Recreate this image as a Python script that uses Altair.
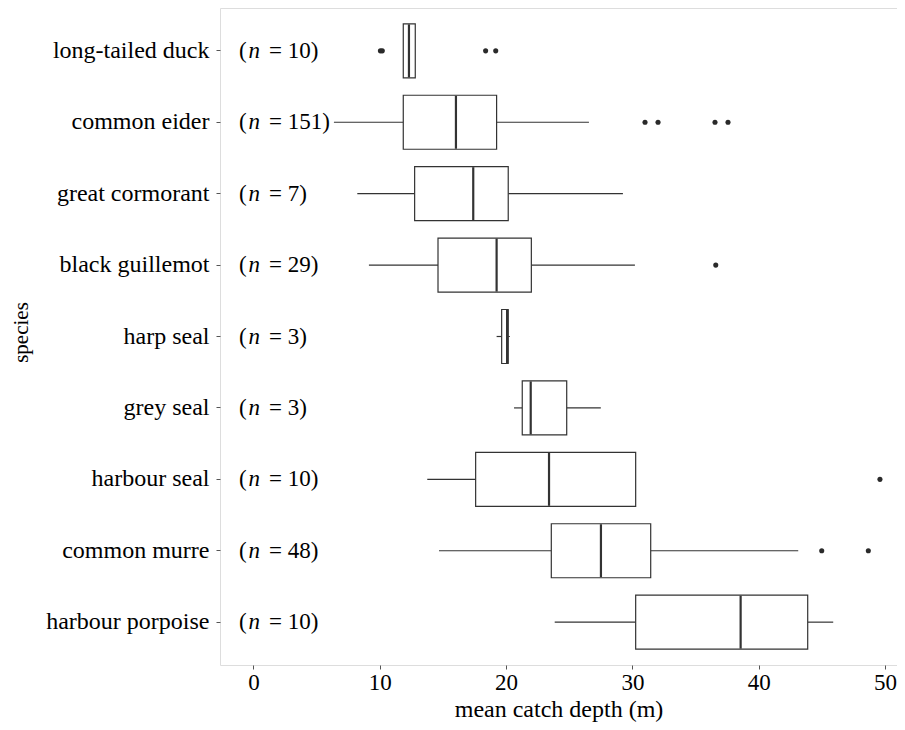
import altair as alt
import pandas as pd

species = ["long-tailed duck", "common eider", "great cormorant", "black guillemot",
           "harp seal", "grey seal", "harbour seal", "common murre", "harbour porpoise"]
n_counts = [10, 151, 7, 29, 3, 3, 10, 48, 10]
whisker_lo = [11.86, 6.37, 8.22, 9.14, 19.25, 20.63, 13.76, 14.69, 23.85]
q1 = [11.86, 11.86, 12.76, 14.61, 19.65, 21.28, 17.59, 23.58, 30.26]
median = [12.31, 16.03, 17.40, 19.25, 20.08, 21.95, 23.40, 27.51, 38.57]
q3 = [12.81, 19.25, 20.17, 22.00, 20.17, 24.80, 30.26, 31.45, 43.88]
whisker_hi = [12.81, 26.56, 29.25, 30.20, 20.30, 27.50, 30.26, 43.13, 45.90]

outlier_species = ["long-tailed duck", "long-tailed duck", "long-tailed duck", "long-tailed duck",
                   "common eider", "common eider", "common eider", "common eider",
                   "black guillemot", "harbour seal", "common murre", "common murre"]
outlier_values = [10.05, 10.20, 18.38, 19.18,
                  31.00, 32.03, 36.54, 37.57,
                  36.60, 49.60, 44.99, 48.68]

label_x = [-1.15] * len(species)

df = pd.DataFrame({
    "species": species, "n": n_counts, "lo": whisker_lo, "q1": q1,
    "median": median, "q3": q3, "hi": whisker_hi, "lx": label_x,
})
df["open"] = "("
df["nn"] = "n"
df["rest"] = ["= " + str(v) + ")" for v in n_counts]
out = pd.DataFrame({"species": outlier_species, "value": outlier_values})

FONT = "Liberation Serif"
LINE = "#333333"
FRAME = "#555555"
W, H = 677, 657

xscale = alt.Scale(domain=[-2.65, 50.95], nice=False, zero=False)
yscale = alt.Scale(domain=species, paddingInner=0, paddingOuter=0.1)

y_enc = alt.Y("species:N", scale=yscale, sort=species, axis=alt.Axis(
    title="species", titleFontSize=21, titleFont=FONT, titleFontWeight="normal",
    titleColor="black", titleX=-199, titleY=324, titleAngle=-90, titleBaseline="middle",
    titleAlign="center",
    labelFontSize=24, labelFont=FONT, labelColor="black", labelPadding=7,
    tickSize=4, tickColor=FRAME, domain=False, grid=False, labelLimit=400))

x_axis = alt.Axis(
    title="mean catch depth (m)", titleFontSize=24, titleFont=FONT, titleFontWeight="normal",
    titleColor="black", titleY=51, titleBaseline="alphabetic",
    labelFontSize=23, labelFont=FONT, labelColor="black", labelBaseline="alphabetic",
    labelPadding=20, values=[0, 10, 20, 30, 40, 50], tickSize=4, tickColor=FRAME,
    domain=False, grid=False)

base = alt.Chart(df)
Y = alt.Y("species:N", scale=yscale, sort=species)

whisk_l = base.mark_rule(color=LINE, strokeWidth=1.2).encode(
    x=alt.X("lo:Q", scale=xscale, axis=x_axis), x2="q1:Q", y=y_enc)
whisk_r = base.mark_rule(color=LINE, strokeWidth=1.2).encode(
    x=alt.X("q3:Q", scale=xscale), x2="hi:Q", y=Y)
box = base.mark_bar(size=54, fill="white", stroke=LINE, strokeWidth=1.2).encode(
    x=alt.X("q1:Q", scale=xscale), x2="q3:Q", y=Y)
med = base.mark_tick(size=53, thickness=2.2, color=LINE, opacity=1).encode(
    x=alt.X("median:Q", scale=xscale), y=Y)
pts = alt.Chart(out).mark_circle(size=26, color="#2a2a2a", opacity=1).encode(
    x=alt.X("value:Q", scale=xscale), y=Y)

tbase = dict(align="left", baseline="middle", font=FONT, fontSize=23, color="black")
t_open = base.mark_text(**tbase).encode(
    x=alt.X("lx:Q", scale=xscale), y=Y, text="open:N")
t_n = base.mark_text(dx=9.5, fontStyle="italic", **tbase).encode(
    x=alt.X("lx:Q", scale=xscale), y=Y, text="nn:N")
t_rest = base.mark_text(dx=30, **tbase).encode(
    x=alt.X("lx:Q", scale=xscale), y=Y, text="rest:N")

chart = alt.layer(whisk_l, whisk_r, box, med, pts, t_open, t_n, t_rest).properties(
    width=W, height=H,
    autosize=alt.AutoSizeParams(type="none"),
    padding={"left": 212, "top": 0, "right": 0, "bottom": 65},
).configure_view(stroke=FRAME, strokeWidth=1).configure(background="white")

chart.save("out.html", embed_options={"renderer": "svg", "actions": False})
